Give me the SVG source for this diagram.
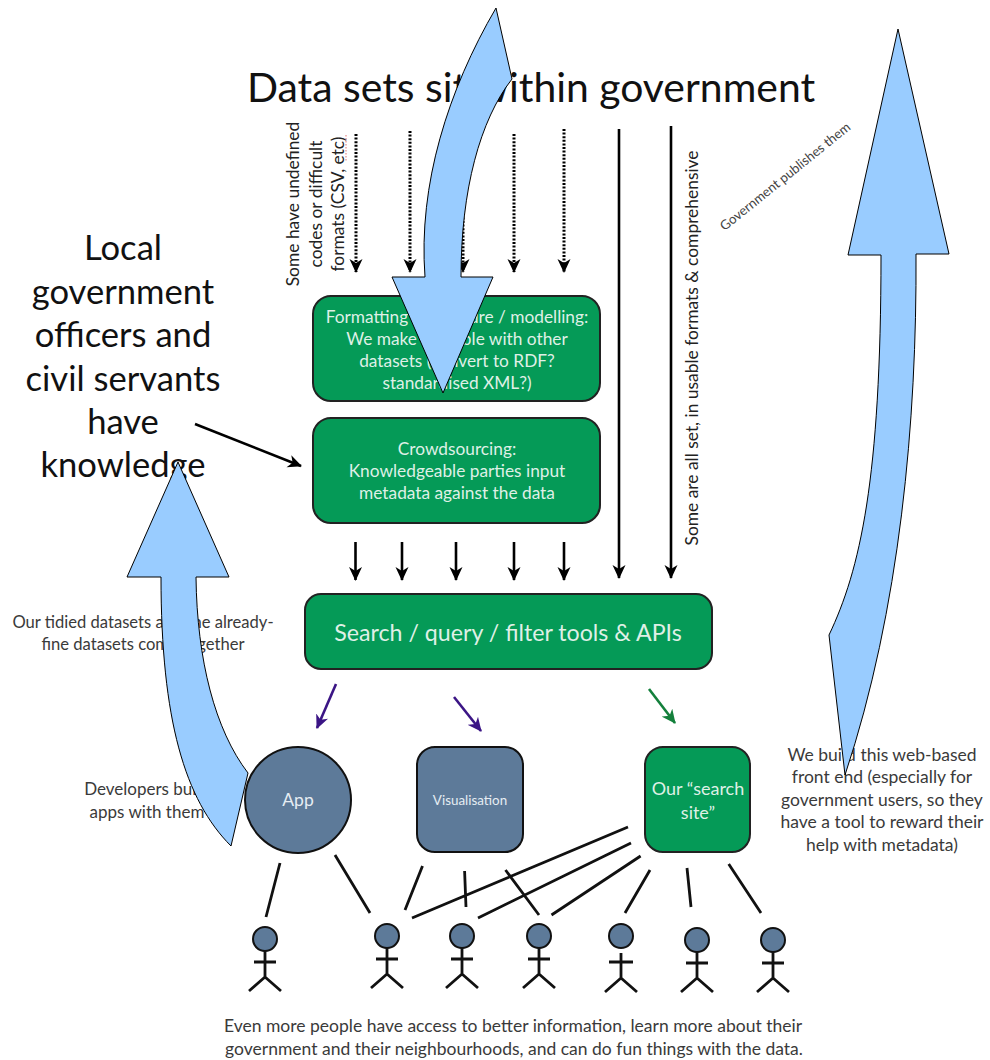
<svg xmlns="http://www.w3.org/2000/svg" width="990" height="1060" viewBox="0 0 990 1060">
<style>
text{font-family:"Lato","Liberation Sans",sans-serif;text-anchor:middle}
.d{fill:#3a3a3a;font-size:17.5px}
.w{fill:#dff0e6;font-size:17.3px}
.big{fill:#111;font-size:34.6px}
.v{fill:#222;font-size:17.4px}
.g{fill:#059a57;stroke:#222;stroke-width:2}
.b{fill:#5d7a99;stroke:#111;stroke-width:2}
.blk{stroke:#000;stroke-width:2.6;fill:none;marker-end:url(#h)}
.dot{stroke:#000;stroke-width:3;stroke-dasharray:2 1.6;fill:none;marker-end:url(#h)}
.l{stroke:#111;stroke-width:2.8;fill:none}
.ar{fill:#99ccff;stroke:#000;stroke-width:1}
</style>
<defs>
<marker id="h" viewBox="0 0 14 14" refX="13" refY="7" markerWidth="14" markerHeight="14" markerUnits="userSpaceOnUse" orient="auto"><path d="M0 0.5L14 7L0 13.5L4 7Z" fill="#000"/></marker>
<marker id="p" viewBox="0 0 14 14" refX="13" refY="7" markerWidth="14" markerHeight="14" markerUnits="userSpaceOnUse" orient="auto"><path d="M0 0.5L14 7L0 13.5L4 7Z" fill="#3b1585"/></marker>
<marker id="gr" viewBox="0 0 14 14" refX="13" refY="7" markerWidth="14" markerHeight="14" markerUnits="userSpaceOnUse" orient="auto"><path d="M0 0.5L14 7L0 13.5L4 7Z" fill="#14803c"/></marker>
<g id="person"><circle cx="0" cy="0" r="12" class="b"/><path class="l" d="M0 12V38M-11 23H11M0 38L-16 52M0 38L16 52"/></g>
<g id="person2"><circle cx="0" cy="0" r="12" class="b"/><path class="l" d="M0 17V42M-12 26H12M0 42L-16 56M0 42L16 56"/></g>
</defs>
<g id="title"><text x="531" y="102" style="font-size:40.9px;fill:#111">Data sets sit within government</text></g>
<g id="labels-top">
<text class="v" transform="translate(299,204) rotate(-90)">Some have undefined</text>
<text class="v" transform="translate(322,204) rotate(-90)">codes or difficult</text>
<text class="v" transform="translate(344,204) rotate(-90)">formats (CSV, etc)</text>
<path d="M346 135V162" stroke="#e58a8a" stroke-width="1.2" stroke-dasharray="1.5 1.5" fill="none"/>
<text class="v" transform="translate(698,348) rotate(-90)">Some are all set, in usable formats &amp; comprehensive</text>
<text transform="translate(788,180) rotate(-39)" style="font-size:13.2px;fill:#444">Government publishes them</text>
</g>
<g id="connectors">
<path class="dot" d="M356 134V272"/><path class="dot" d="M410 131V272"/><path class="dot" d="M463 131V272"/><path class="dot" d="M514 134V272"/><path class="dot" d="M564 129V272"/>
<path class="blk" d="M619 129V578"/><path class="blk" d="M671 126V578"/>
<path class="blk" d="M195 424L301 466"/>
<path class="blk" d="M355.500 542V580"/><path class="blk" d="M402 542V580"/><path class="blk" d="M456 542V580"/><path class="blk" d="M514 542V580"/><path class="blk" d="M564 542V580"/>
<path style="stroke:#3b1585;stroke-width:2.6;fill:none;marker-end:url(#p)" d="M336 684L317 728"/>
<path style="stroke:#3b1585;stroke-width:2.6;fill:none;marker-end:url(#p)" d="M454 697L481 731"/>
<path style="stroke:#14803c;stroke-width:2.6;fill:none;marker-end:url(#gr)" d="M649 689L675 723"/>
<path class="l" d="M280 863L266 917M335 855L370 913M422.500 866L405 910M464.600 871L466 907M505.500 870L539 915M628 827L412 918M631 843L478 918M640.600 856L551.500 915M650 870L625 913M687 868L691 907M728.700 864L761 913"/>
</g>
<g id="n1"><rect class="g" x="313" y="296" width="287" height="105" rx="18"/>
<text class="w"><tspan x="457" y="323">Formatting / structure / modelling:</tspan><tspan x="457" y="345">We make it usable with other</tspan><tspan x="457" y="367">datasets (convert to RDF?</tspan><tspan x="457" y="389">standardised XML?)</tspan></text></g>
<g id="n2"><rect class="g" x="313" y="418" width="287" height="105" rx="18"/>
<text class="w"><tspan x="457" y="455">Crowdsourcing:</tspan><tspan x="457" y="477">Knowledgeable parties input</tspan><tspan x="457" y="499">metadata against the data</tspan></text></g>
<g id="n3"><rect class="g" x="305" y="594" width="407" height="75" rx="16"/><text x="508" y="641" style="font-size:23.2px;fill:#dff0e6">Search / query / filter tools &amp; APIs</text></g>
<g id="n4"><circle class="b" cx="298" cy="800" r="53"/><text x="298" y="806" style="font-size:17.5px;fill:#e6edf3">App</text></g>
<g id="n5"><rect class="b" x="417" y="747" width="106" height="105" rx="18"/><text x="470" y="805" style="font-size:13.4px;fill:#e6edf3">Visualisation</text></g>
<g id="n6"><rect class="g" x="645" y="747" width="105" height="105" rx="18"/><text class="w" style="font-size:18px"><tspan x="698" y="795">Our “search</tspan><tspan x="698" y="819">site”</tspan></text></g>
<g id="people">
<use href="#person" x="265" y="939"/><use href="#person" x="387" y="936"/><use href="#person" x="462" y="936"/><use href="#person" x="539" y="936"/><use href="#person2" x="621" y="936"/><use href="#person" x="697" y="940"/><use href="#person" x="773" y="940"/>
</g>
<g id="labels">
<text class="big"><tspan x="123" y="260">Local</tspan><tspan x="123" y="304">government</tspan><tspan x="123" y="347">officers and</tspan><tspan x="123" y="391">civil servants</tspan><tspan x="123" y="434">have</tspan><tspan x="123" y="477">knowledge</tspan></text>
<text class="d" style="font-size:16.6px"><tspan x="143" y="628">Our tidied datasets and the already-</tspan><tspan x="143" y="650">fine datasets come together</tspan></text>
<text class="d" style="font-size:17px"><tspan x="147" y="795">Developers build</tspan><tspan x="147" y="818">apps with them</tspan></text>
<text class="d"><tspan x="882" y="761">We build this web-based</tspan><tspan x="882" y="783">front end (especially for</tspan><tspan x="882" y="806">government users, so they</tspan><tspan x="882" y="828">have a tool to reward their</tspan><tspan x="882" y="851">help with metadata)</tspan></text>
<text class="d"><tspan x="513" y="1032">Even more people have access to better information, learn more about their</tspan><tspan x="514" y="1055">government and their neighbourhoods, and can do fun things with the data.</tspan></text>
</g>
<g id="big-arrows">
<path class="ar" d="M496 8L512 79C480 120 461 190 461 277H493L443 393L392 277H425C418 185 448 90 496 8Z"/>
<path class="ar" d="M178 462L229 577H196C197 660 215 730 248 773L231 846C185 800 161 720 161 577H127Z"/>
<path class="ar" d="M898 29L949 254H916C917 420 900 610 845 775L829 635C860 570 881 480 881 255H848Z"/>
</g>
</svg>
